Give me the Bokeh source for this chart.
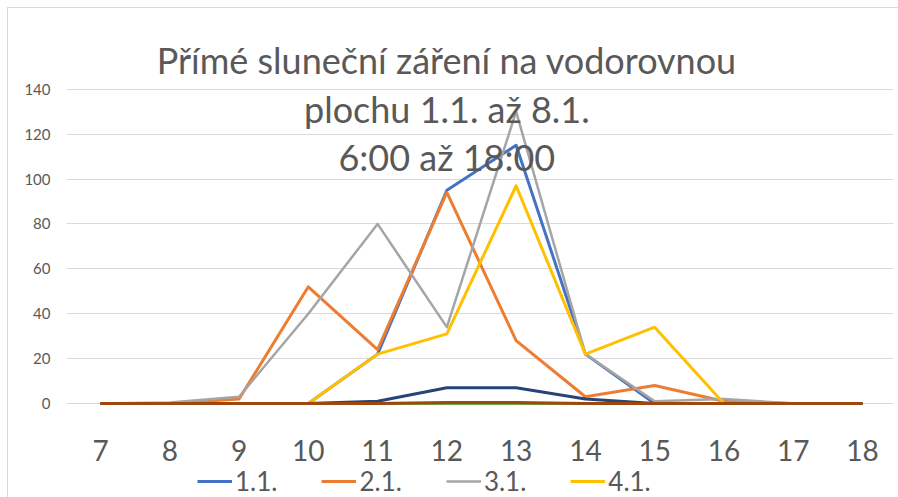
from bokeh.plotting import figure
from bokeh.models import FixedTicker, Label, Legend, LegendItem, Range1d
from bokeh.core.properties import value
from bokeh.embed import file_html
from bokeh.resources import INLINE

hours = [7, 8, 9, 10, 11, 12, 13, 14, 15, 16, 17, 18]
d1 = [0, 0, 0, 0, 22, 95, 115, 22, 0, 0, 0, 0]
d2 = [0, 0, 2, 52, 24, 94, 28, 3, 8, 1, 0, 0]
d3 = [0, 0.5, 3, 40, 80, 34, 130, 22, 1, 2, 0, 0]
d4 = [0, 0, 0, 0, 22, 31, 97, 22, 34, 0, 0, 0]
d5 = [0, 0, 0, 0, 0, 0, 0, 0, 0, 0, 0, 0]
d6 = [0, 0, 0, 0, 0, 0, 0, 0, 0, 0, 0, 0]
d7 = [0, 0, 0, 0, 1, 7, 7, 2, 0, 0, 0, 0]
d8 = [0, 0, 0, 0, 0, 0.5, 0.5, 0, 0, 0, 0, 0]
series_names = ["1.1.", "2.1.", "3.1.", "4.1.", "5.1.", "6.1.", "7.1.", "8.1."]
y_ticks = [0, 20, 40, 60, 80, 100, 120, 140]
hour_labels = [str(h) for h in hours]
title_lines = ["Přímé sluneční záření na vodorovnou", "plochu 1.1. až 8.1.", "6:00 až 18:00"]

colors = ["#4472C4", "#ED7D31", "#A5A5A5", "#FFC000", "#5B9BD5", "#70AD47", "#264478", "#9E480E"]
widths = [3, 3, 2.5, 3, 3, 3, 3, 3]
FONT = "Lato"
TXT = "#595959"

p = figure(width=890, height=489, output_backend="svg", toolbar_location=None,
           x_range=Range1d(6.509, 18.448), y_range=Range1d(-41.87, 175.95),
           x_axis_location=None,
           min_border_left=58, min_border_right=5, min_border_top=0, min_border_bottom=0)
p.styles = {"margin-left": "8px", "margin-top": "8px", "outline": "1px solid #D9D9D9"}
p.outline_line_color = None
p.background_fill_color = "white"
p.border_fill_color = "white"

p.xgrid.grid_line_color = None
p.ygrid.grid_line_color = "#D9D9D9"
p.ygrid.grid_line_width = 1
p.ygrid.ticker = FixedTicker(ticks=y_ticks)

p.yaxis.ticker = FixedTicker(ticks=y_ticks)
p.yaxis.axis_line_color = None
p.yaxis.major_tick_line_color = None
p.yaxis.minor_tick_line_color = None
p.yaxis.major_tick_out = 0
p.yaxis.minor_tick_out = 0
p.yaxis.major_label_text_font = FONT
p.yaxis.major_label_text_font_size = "15px"
p.yaxis.major_label_text_color = TXT
p.yaxis.major_label_standoff = 16

# category labels of the horizontal axis
p.text(x=hours, y=[-20.9] * len(hours), text=hour_labels, text_align="center",
       text_baseline="middle", text_font=value(FONT), text_font_size="28px", text_color=TXT)

data = [d1, d2, d3, d4, d5, d6, d7, d8]
renderers = []
for vals, c, w in zip(data, colors, widths):
    r = p.line(hours, vals, line_color=c, line_width=w, line_join="round")
    renderers.append(r)

items = [LegendItem(label=series_names[i], renderers=[renderers[i]]) for i in range(4)]
legend = Legend(items=items, orientation="horizontal", location=(131, 0),
                label_text_font=FONT, label_text_font_size="26px", label_text_color=TXT,
                glyph_width=35, glyph_height=26, label_standoff=3, spacing=44,
                padding=0, margin=0, border_line_color=None, background_fill_alpha=0)
p.add_layout(legend, "center")

title_y = [152.8, 131.4, 109.6]
for t, ty in zip(title_lines, title_y):
    p.add_layout(Label(x=12.0, y=ty, text=t, text_align="center", text_baseline="alphabetic",
                       text_font=FONT, text_font_size="36px", text_color=TXT))

open("out.html", "w").write(file_html(p, INLINE))
